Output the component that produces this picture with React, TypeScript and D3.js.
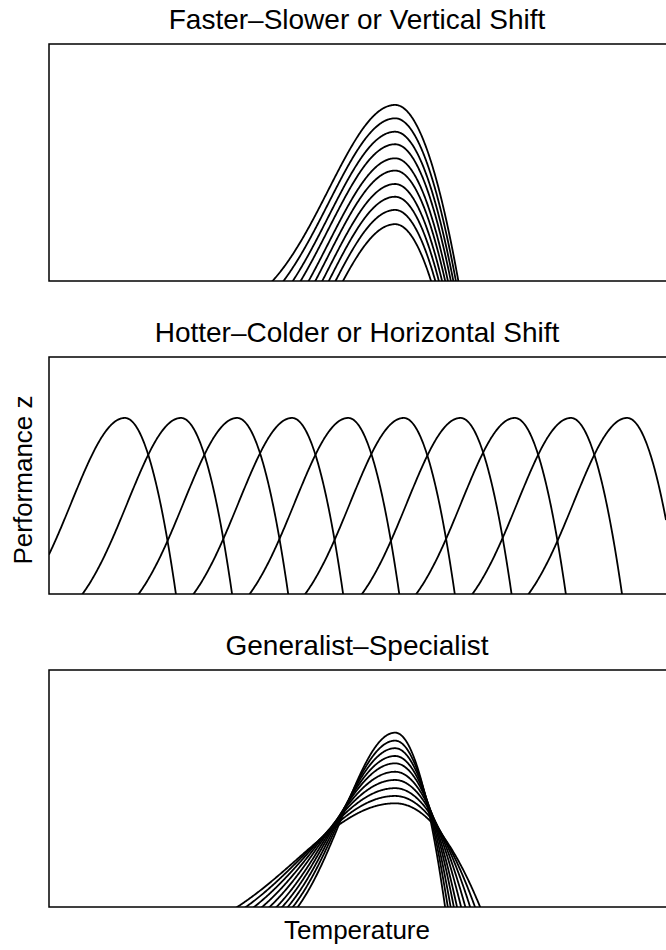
import { useMemo } from "react";
import * as d3 from "d3";

const WIDTH = 666;
const HEIGHT = 950;
const BOX = { left: 49, right: 667, height: 237 };
const PANEL_TOPS = [44, 357, 670];
const FONT = "'Liberation Sans', Arial, Helvetica, sans-serif";

// temperature axis is unitless (0..100 across the box), performance axis runs from 0.185 to 1.282
const T_DOMAIN = [0, 100];
const Z_DOMAIN = [0.185, 1.282];

const TITLES = [
  "Faster\u2013Slower or Vertical Shift",
  "Hotter\u2013Colder or Horizontal Shift",
  "Generalist\u2013Specialist",
];

// panel 1: same curve moved down
const vertTopt = 56.1;
const vertSigma = 15.3;
const vertDrop = 11.35;
const vertShifts = [0, -0.062, -0.124, -0.182, -0.247, -0.304, -0.366, -0.425, -0.486, -0.552];

// panel 2: same curve moved right
const horizSigma = 12.3;
const horizDrop = 9.16;
const horizOptima = [12.3, 21.4, 30.5, 39.4, 48.5, 57.5, 66.7, 75.5, 84.6, 93.7];

// panel 3: taller & narrower vs. lower & wider
const specTopt = 56.1;
const specSigma = 12.3;
const specDrop = 9.16;
const specPeaks = [0.992, 0.955, 0.92, 0.884, 0.85, 0.811, 0.773, 0.735, 0.699, 0.665];
const specLeftWidths = [0.99, 1.052, 1.117, 1.19, 1.266, 1.362, 1.466, 1.583, 1.706, 1.84];
const specRightWidths = [0.98, 1.038, 1.099, 1.168, 1.238, 1.328, 1.425, 1.534, 1.648, 1.77];

// gaussian rise, quadratic fall after the optimum
const tpc = (t: number, topt: number, sigma: number, drop: number) => {
  const d = t - topt;
  return d < 0 ? Math.exp(-((d / sigma) ** 2)) : 1 - (d / drop) ** 2;
};

type Curve = (t: number) => number;

export default function App() {
  const x = d3.scaleLinear().domain(T_DOMAIN).range([BOX.left, BOX.right - 1]);
  const temps = d3.range(T_DOMAIN[0], T_DOMAIN[1] + 0.05, 0.1);

  const panels: Curve[][] = useMemo(
    () => [
      vertShifts.map((s) => (t: number) => tpc(t, vertTopt, vertSigma, vertDrop) + s),
      horizOptima.map((o) => (t: number) => tpc(t, o, horizSigma, horizDrop)),
      specPeaks.map(
        (p, i) => (t: number) =>
          p * tpc(t, specTopt, specSigma * specLeftWidths[i], specDrop * specRightWidths[i])
      ),
    ],
    []
  );

  return (
    <svg
      width={WIDTH}
      height={HEIGHT}
      style={{ position: "absolute", left: 0, top: 0, background: "white" }}
    >
      <defs>
        {PANEL_TOPS.map((top, i) => (
          <clipPath id={`clip${i}`} key={i}>
            <rect x={BOX.left} y={top} width={BOX.right - BOX.left} height={BOX.height} />
          </clipPath>
        ))}
      </defs>
      {PANEL_TOPS.map((top, i) => {
        const y = d3.scaleLinear().domain(Z_DOMAIN).range([top + BOX.height, top]);
        return (
          <g key={i}>
            <text
              x={357}
              y={top - 15}
              textAnchor="middle"
              fontFamily={FONT}
              fontSize={28}
              fill="black"
            >
              {TITLES[i]}
            </text>
            <g clipPath={`url(#clip${i})`}>
              {panels[i].map((f, j) => {
                const path = d3
                  .line<number>()
                  .x((t) => x(t))
                  .y((t) => y(Math.max(f(t), Z_DOMAIN[0] - 0.1)))(temps);
                return (
                  <path key={j} d={path || ""} fill="none" stroke="black" strokeWidth={1.8} />
                );
              })}
            </g>
            <rect
              x={BOX.left}
              y={top}
              width={BOX.right - BOX.left}
              height={BOX.height}
              fill="none"
              stroke="black"
              strokeWidth={1.5}
            />
          </g>
        );
      })}
      <text
        x={357}
        y={939}
        textAnchor="middle"
        fontFamily={FONT}
        fontSize={26}
        fill="black"
      >
        Temperature
      </text>
      <text
        transform={`translate(32,${480}) rotate(-90)`}
        textAnchor="middle"
        fontFamily={FONT}
        fontSize={26}
        fill="black"
      >
        Performance z
      </text>
    </svg>
  );
}
